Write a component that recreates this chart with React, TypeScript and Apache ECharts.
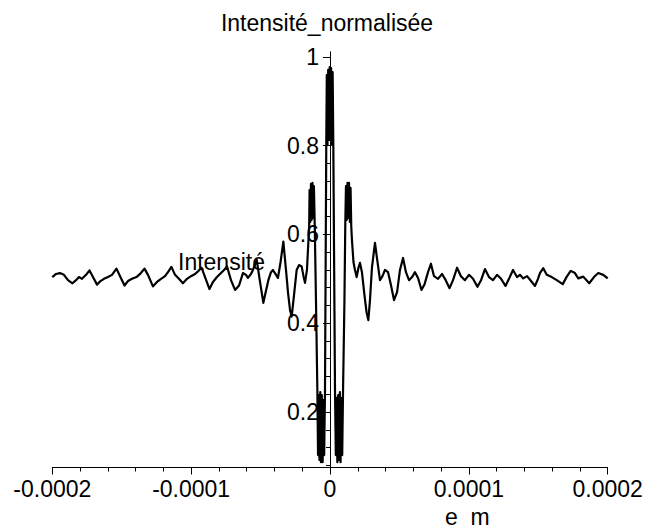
import { useEffect, useRef } from "react";
import * as echarts from "echarts";

// optical path difference e, in micrometres (converted to metres for the axis)
const eMicrons = [
  -200.0, -197.3, -194.5, -191.6, -188.7, -185.5, -182.9, -180.8, -178.6, -175.7,
  -173.2, -170.7, -167.8, -165.3, -162.8, -159.9, -157.0, -153.8, -151.2, -148.0,
  -145.5, -142.6, -139.4, -136.8, -133.6, -131.1, -127.5, -124.6, -121.7, -118.8,
  -116.7, -114.2, -111.6, -108.8, -105.9, -103.0, -100.1, -97.2, -94.7, -92.5,
  -90.0, -86.8, -84.3, -81.4, -78.5, -76.3, -74.2, -71.3, -68.4, -65.5,
  -62.7, -60.5, -59.1, -56.9, -55.5, -52.8, -50.4, -48.0, -46.1, -44.4,
  -42.5, -41.1, -39.3, -37.5, -35.6, -33.6, -31.7, -30.2, -28.8, -27.6,
  -26.3, -24.0, -22.3, -20.4, -19.1, -18.0, -16.6, -15.5, -15.0, -14.7,
  -14.2, -13.7, -13.2, -12.6, -12.1, -11.6, -11.0, -10.1, -9.1, -8.6,
  -8.1, -7.6, -7.0, -6.5, -5.9, -5.3, -4.8, -4.2, -3.6, -2.7,
  -2.3, -1.8, -1.3, -0.7, -0.2, 0.3, 0.8, 1.4, 1.9, 2.4,
  3.6, 4.2, 4.8, 5.3, 5.9, 6.5, 7.1, 7.6, 8.2, 8.8,
  9.4, 10.4, 11.0, 11.5, 12.1, 12.6, 13.2, 13.7, 14.3, 14.8,
  15.3, 15.8, 16.9, 18.0, 19.2, 20.5, 21.6, 23.0, 24.8, 26.3,
  27.6, 28.8, 30.2, 32.4, 34.2, 36.0, 37.8, 39.6, 41.8, 43.9,
  46.1, 48.3, 50.4, 52.6, 54.7, 56.9, 59.1, 61.2, 63.4, 65.9,
  68.1, 70.6, 72.7, 74.9, 77.8, 80.7, 82.8, 86.1, 88.6, 91.5,
  94.3, 97.2, 100.1, 103.0, 106.2, 108.8, 111.6, 114.5, 117.4, 120.3,
  123.2, 126.4, 128.9, 131.8, 134.7, 136.8, 139.2, 141.9, 144.8, 147.6,
  149.8, 151.2, 153.6, 156.1, 159.7, 163.3, 167.6, 170.5, 173.4, 176.4,
  178.8, 182.4, 186.7, 190.1, 193.2, 196.8, 200.0,
];

const intensity = [
  0.504, 0.511, 0.513, 0.509, 0.497, 0.490, 0.497, 0.504, 0.500, 0.509,
  0.519, 0.504, 0.487, 0.495, 0.500, 0.504, 0.509, 0.523, 0.506, 0.485,
  0.495, 0.500, 0.504, 0.511, 0.523, 0.509, 0.483, 0.493, 0.500, 0.506,
  0.515, 0.527, 0.509, 0.500, 0.490, 0.500, 0.506, 0.511, 0.518, 0.525,
  0.504, 0.477, 0.493, 0.504, 0.513, 0.520, 0.528, 0.497, 0.475, 0.485,
  0.513, 0.509, 0.502, 0.511, 0.520, 0.543, 0.493, 0.446, 0.473, 0.497,
  0.515, 0.520, 0.511, 0.502, 0.538, 0.584, 0.520, 0.468, 0.430, 0.415,
  0.452, 0.520, 0.531, 0.528, 0.506, 0.491, 0.520, 0.588, 0.619, 0.700,
  0.628, 0.714, 0.633, 0.716, 0.637, 0.709, 0.621, 0.452, 0.250, 0.103,
  0.238, 0.092, 0.245, 0.087, 0.238, 0.087, 0.227, 0.103, 0.250, 0.797,
  0.959, 0.802, 0.971, 0.813, 0.977, 0.813, 0.975, 0.802, 0.966, 0.797,
  0.250, 0.103, 0.232, 0.087, 0.238, 0.092, 0.245, 0.087, 0.232, 0.103,
  0.250, 0.452, 0.621, 0.709, 0.633, 0.716, 0.637, 0.716, 0.628, 0.705,
  0.619, 0.588, 0.538, 0.520, 0.504, 0.525, 0.536, 0.515, 0.464, 0.425,
  0.407, 0.452, 0.525, 0.581, 0.538, 0.497, 0.506, 0.520, 0.515, 0.486,
  0.452, 0.470, 0.520, 0.547, 0.515, 0.497, 0.504, 0.515, 0.502, 0.475,
  0.488, 0.515, 0.534, 0.506, 0.500, 0.511, 0.500, 0.479, 0.497, 0.525,
  0.506, 0.497, 0.509, 0.500, 0.482, 0.497, 0.522, 0.504, 0.497, 0.509,
  0.500, 0.484, 0.500, 0.520, 0.504, 0.509, 0.501, 0.506, 0.495, 0.484,
  0.500, 0.513, 0.524, 0.509, 0.504, 0.497, 0.488, 0.505, 0.518, 0.513,
  0.501, 0.505, 0.490, 0.504, 0.513, 0.509, 0.501,
];

const yMajorTicks = [0.2, 0.4, 0.6, 0.8, 1];
const yMinorTicks = [
  0.08, 0.12, 0.16, 0.24, 0.28, 0.32, 0.36, 0.44, 0.48, 0.52, 0.56,
  0.64, 0.68, 0.72, 0.76, 0.84, 0.88, 0.92, 0.96,
];

const titleText = "Intensité_normalisée";
const curveLabel = "Intensité";
const xAxisName = "e  m";

const FONT = '"Liberation Sans", Arial, sans-serif';

const GRID_LEFT = 52.3;
const GRID_WIDTH = 555.4;
// the vertical axis crosses the horizontal one at e = 0 (grid centre)
const Y_AXIS_OFFSET = -GRID_WIDTH / 2;

export default function App() {
  const ref = useRef<HTMLDivElement>(null);

  useEffect(() => {
    if (!ref.current) return;
    const chart = echarts.init(ref.current, undefined, { renderer: "svg" });
    const data = eMicrons.map((e, i) => [e * 1e-6, intensity[i]]);
    const fmt = (v: number) => String(Number(v.toFixed(6)));

    chart.setOption({
      animation: false,
      backgroundColor: "#ffffff",
      grid: {
        left: GRID_LEFT,
        top: 52,
        width: GRID_WIDTH,
        height: 415.5,
        containLabel: false,
        outerBoundsMode: "none",
      },
      xAxis: {
        type: "value",
        min: -0.0002,
        max: 0.0002,
        interval: 0.0001,
        axisLine: { show: true, onZero: false, lineStyle: { color: "#000", width: 1 } },
        axisTick: { show: true, length: 7, lineStyle: { color: "#000", width: 1 } },
        minorTick: { show: true, splitNumber: 5, length: 4, lineStyle: { color: "#000", width: 1 } },
        axisLabel: {
          color: "#000",
          fontSize: 23,
          fontFamily: FONT,
          margin: 10,
          formatter: (v: number) => fmt(v),
        },
        splitLine: { show: false },
        minorSplitLine: { show: false },
      },
      yAxis: [
        {
          type: "value",
          min: 0.075,
          max: 1.011,
          position: "left",
          offset: Y_AXIS_OFFSET,
          axisLine: {
            show: true,
            onZero: false,
            lineStyle: { color: "#000", width: 1 },
          },
          axisTick: {
            show: true,
            length: 7,
            customValues: yMajorTicks,
            lineStyle: { color: "#000", width: 1 },
          },
          axisLabel: {
            show: true,
            customValues: yMajorTicks,
            color: "#000",
            fontSize: 23,
            fontFamily: FONT,
            margin: 11,
            formatter: (v: number) => fmt(v),
          },
          splitLine: { show: false },
        },
        {
          type: "value",
          min: 0.075,
          max: 1.011,
          position: "left",
          offset: Y_AXIS_OFFSET,
          axisLine: {
            show: true,
            onZero: false,
            lineStyle: { color: "#000", width: 1 },
          },
          axisTick: {
            show: true,
            length: 4,
            customValues: yMinorTicks,
            lineStyle: { color: "#000", width: 1 },
          },
          axisLabel: { show: false },
          splitLine: { show: false },
        },
      ],
      series: [
        {
          type: "line",
          data,
          xAxisIndex: 0,
          yAxisIndex: 0,
          showSymbol: false,
          symbol: "none",
          silent: true,
          lineStyle: { color: "#000", width: 2.2, join: "round" },
        },
      ],
      graphic: [
        {
          type: "text",
          x: 327,
          y: 11,
          style: {
            text: titleText,
            fill: "#000",
            font: `23px ${FONT}`,
            textAlign: "center",
            align: "center",
            textVerticalAlign: "top",
            verticalAlign: "top",
          },
        },
        {
          type: "text",
          x: 178,
          y: 250,
          style: {
            text: curveLabel,
            fill: "#000",
            font: `23px ${FONT}`,
            textAlign: "left",
            align: "left",
            textVerticalAlign: "top",
            verticalAlign: "top",
          },
        },
        {
          type: "text",
          x: 445,
          y: 505,
          style: {
            text: xAxisName,
            fill: "#000",
            font: `23px ${FONT}`,
            textAlign: "left",
            align: "left",
            textVerticalAlign: "top",
            verticalAlign: "top",
          },
        },
      ],
    });

    return () => chart.dispose();
  }, []);

  return (
    <div
      ref={ref}
      style={{
        position: "fixed",
        left: 0,
        top: 0,
        width: 657,
        height: 531,
        background: "#fff",
      }}
    />
  );
}
